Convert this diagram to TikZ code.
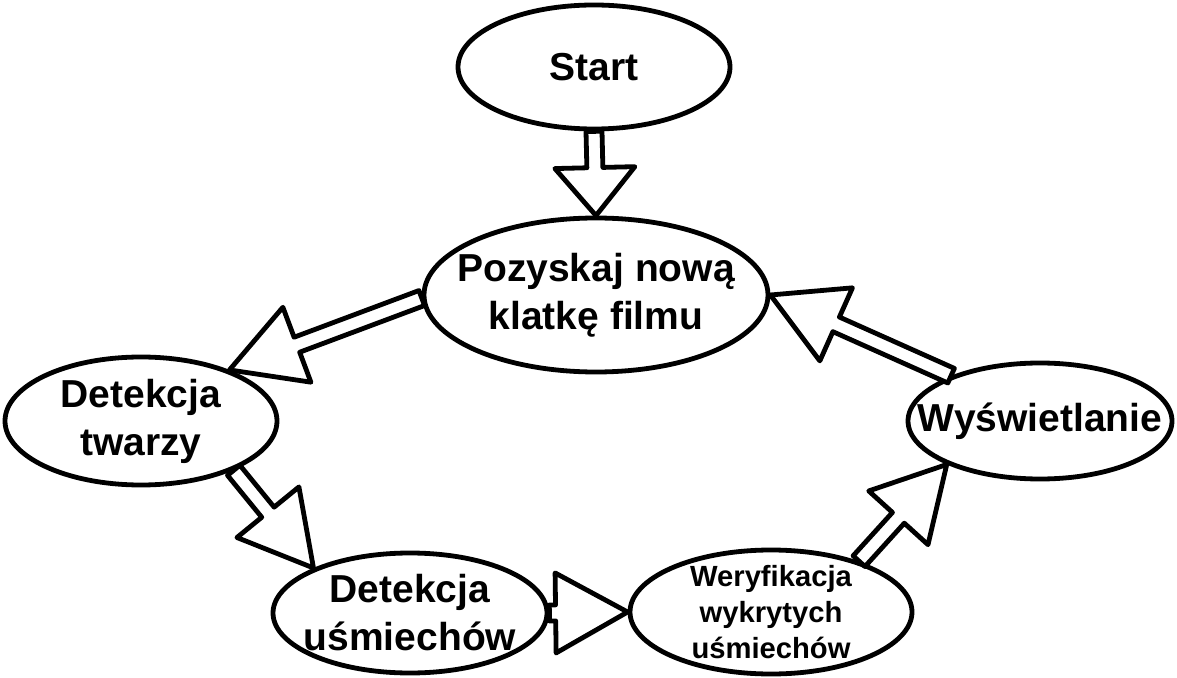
\documentclass[tikz,border=0pt]{standalone}
\usepackage{fontspec}
\setmainfont{Liberation Sans}
\usepackage{tikz}
\usetikzlibrary{shapes.geometric, calc}

%% hollow block arrow: [head length]{from}{to}
\newcommand{\hollowarrow}[3][36pt]{%
  \coordinate (arr-s) at (#2);
  \coordinate (arr-e) at (#3);
  \coordinate (arr-b) at ($(arr-e)!#1!(arr-s)$);
  \draw[hollow]
    ($(arr-s)!4pt!90:(arr-e)$) -- ($(arr-b)!4pt!-90:(arr-s)$)
    -- ($(arr-b)!20pt!-90:(arr-s)$) -- (arr-e)
    -- ($(arr-b)!20pt!90:(arr-s)$) -- ($(arr-b)!4pt!90:(arr-s)$)
    -- ($(arr-s)!4pt!-90:(arr-e)$) -- cycle;}

\begin{document}
\begin{tikzpicture}[x=0.5pt, y=-0.5pt,
  oval/.style={draw, ellipse, line width=2.4pt, align=center,
    inner xsep=-16pt, inner ysep=-6pt,
    font=\bfseries\fontsize{19.5}{24}\selectfont},
  small/.style={font=\bfseries\fontsize{14.6}{18}\selectfont},
  hollow/.style={draw, fill=white, line width=2.4pt, line join=round}]
\useasboundingbox (0,0) rectangle (1177,678);
%%── Steps ────────────────────────────────────────────────
\node[oval, minimum width=136pt, minimum height=62pt] (start) at (594,67) {Start};
\node[oval, minimum width=172pt, minimum height=77pt] (frame) at (596,295)
     {Pozyskaj nową\\klatkę filmu};
\node[oval, minimum width=136pt, minimum height=64pt] (face) at (141,421)
     {Detekcja\\twarzy};
\node[oval, minimum width=137pt, minimum height=60pt] (smiles) at (410,613)
     {Detekcja\\uśmiechów};
\node[oval, small, minimum width=141pt, minimum height=62pt] (verify) at (771,612)
     {Weryfikacja\\wykrytych\\uśmiechów};
\node[oval, minimum width=132pt, minimum height=58pt] (display) at (1040,421)
     {Wyświetlanie};
%%── Flow arrows ──────────────────────────────────────────
\hollowarrow[24pt]{start.south}{frame.north}
\hollowarrow{frame.181}{face.30}
\hollowarrow{face.-28}{smiles.155}
\hollowarrow{smiles.east}{verify.west}
\hollowarrow{verify.30}{display.205}
\hollowarrow{display.153}{frame.east}
\end{tikzpicture}
\end{document}
